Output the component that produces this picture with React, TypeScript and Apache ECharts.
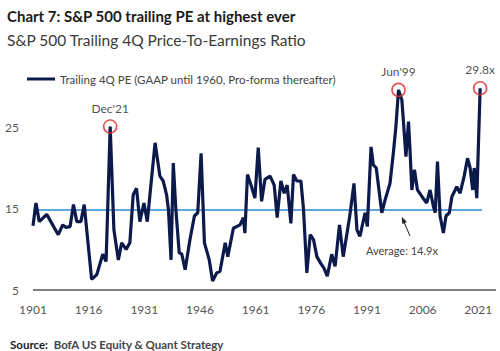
import React, { useEffect, useRef } from 'react';
import * as echarts from 'echarts';

const years = [
  1901.0, 1901.8, 1902.7, 1904.7, 1907.8, 1909.0, 1909.9, 1911.0, 1911.9, 1912.8,
  1913.9, 1914.8, 1916.8, 1918.2, 1919.8, 1920.7, 1921.8, 1922.8, 1924.0, 1924.9,
  1926.1, 1927.1, 1928.0, 1928.9, 1929.8, 1930.9, 1931.8, 1933.9, 1935.2, 1936.1,
  1937.0, 1937.5, 1938.2, 1938.8, 1939.5, 1940.4, 1941.1, 1942.0, 1943.3, 1944.5,
  1945.4, 1946.3, 1947.2, 1948.5, 1949.4, 1950.5, 1951.4, 1952.8, 1953.5, 1955.0,
  1956.8, 1957.7, 1958.1, 1958.8, 1959.9, 1960.8, 1961.7, 1962.6, 1963.5, 1964.9,
  1966.0, 1966.8, 1967.8, 1968.7, 1969.5, 1970.5, 1971.2, 1972.1, 1973.2, 1973.9,
  1974.8, 1975.7, 1976.6, 1977.5, 1978.5, 1979.4, 1980.3, 1981.5, 1982.4, 1983.6,
  1984.6, 1986.3, 1987.5, 1988.3, 1989.1, 1990.5, 1991.1, 1992.1, 1992.7, 1993.5,
  1995.0, 1995.9, 1997.2, 1998.1, 1998.8, 1999.5, 2000.4, 2000.8, 2001.5, 2002.2,
  2002.6, 2003.1, 2003.8, 2004.6, 2005.8, 2007.1, 2008.0, 2008.9, 2009.4, 2010.0,
  2010.7, 2011.6, 2012.3, 2013.2, 2013.9, 2015.2, 2016.1, 2017.2, 2018.1, 2018.8,
  2019.5, 2019.9, 2020.6, 2021.5,
];

const peValues = [
  12.9, 15.7, 13.4, 14.3, 11.8, 13.0, 12.7, 12.8, 15.5, 13.4,
  13.4, 15.5, 6.3, 6.9, 9.4, 8.5, 25.1, 12.4, 8.7, 10.8,
  10.0, 10.8, 16.7, 17.5, 13.4, 15.7, 13.4, 23.1, 19.0, 18.4,
  16.7, 14.9, 8.7, 20.6, 14.9, 9.6, 9.4, 7.5, 11.2, 14.1,
  14.5, 21.8, 10.8, 8.7, 6.1, 7.1, 7.3, 10.8, 9.1, 12.6,
  13.0, 13.9, 12.0, 19.2, 17.7, 16.3, 22.5, 15.9, 18.6, 19.0,
  17.9, 13.9, 18.4, 16.9, 17.9, 13.2, 19.2, 18.4, 18.4, 14.9,
  7.1, 11.8, 11.2, 9.1, 8.3, 7.7, 6.7, 9.4, 7.9, 13.0,
  9.1, 13.9, 18.1, 12.4, 11.6, 14.5, 12.8, 22.6, 20.4, 20.0,
  14.5, 16.1, 18.1, 21.8, 25.1, 29.6, 28.4, 25.9, 21.4, 25.7,
  22.2, 17.3, 19.8, 17.3, 16.5, 15.7, 17.3, 15.3, 14.5, 20.8,
  14.1, 12.0, 14.1, 14.5, 16.5, 17.7, 16.9, 19.0, 21.2, 20.0,
  17.3, 20.0, 16.3, 29.8,
];

const AVERAGE = 14.9;

const highlightYears = [1921.8, 1999.5, 2021.5];
const highlightValues = [25.1, 29.6, 29.8];
const highlightLabels = ["Dec'21", "Jun'99", '29.8x'];

const yTickLabels = ['5', '15', '25'];

const FONT = 'Lato, "Liberation Sans", sans-serif';

export default function App() {
  const ref = useRef<HTMLDivElement>(null);

  useEffect(() => {
    document.body.style.margin = '0';
    if (!ref.current) return;
    const chart = echarts.init(ref.current, undefined, { renderer: 'svg' });
    const lineData = years.map((y, i) => [y, peValues[i]]);
    const hlData = highlightYears.map((y, i) => ({
      value: [y, highlightValues[i]],
      label: { formatter: highlightLabels[i] },
    }));

    chart.setOption({
      animation: false,
      backgroundColor: '#ffffff',
      textStyle: { fontFamily: FONT },
      title: [
        {
          text: 'Chart 7: S&P 500 trailing PE at highest ever',
          left: 2,
          top: 3,
          textStyle: { fontFamily: FONT, fontSize: 15, fontWeight: 'bold', color: '#1a1a1a' },
        },
        {
          text: 'S&P 500 Trailing 4Q Price-To-Earnings Ratio',
          left: 2,
          top: 27,
          textStyle: { fontFamily: FONT, fontSize: 15.5, fontWeight: 'normal', color: '#3a3a3a' },
        },
        {
          text: '{b|Source:}  BofA US Equity & Quant Strategy',
          left: 5,
          top: 333,
          textStyle: {
            fontFamily: FONT,
            fontSize: 11.5,
            color: '#444444',
            rich: {
              b: { fontFamily: FONT, fontSize: 11.5, fontWeight: 'bold', color: '#1a1a1a' },
            },
          },
        },
      ],
      legend: {
        left: 22,
        top: 68,
        itemWidth: 28,
        itemHeight: 3,
        icon: 'rect',
        textStyle: { fontFamily: FONT, fontSize: 11.5, color: '#444444' },
        data: ['Trailing 4Q PE (GAAP until 1960, Pro-forma thereafter)'],
      },
      grid: { left: 33, right: 18, top: 46, bottom: 61 },
      xAxis: {
        type: 'value',
        min: 1901,
        max: 2022,
        interval: 15,
        splitLine: { show: false },
        axisLine: { show: false },
        axisTick: { show: false },
        axisLabel: {
          margin: 13,
          fontSize: 12,
          color: '#555555',
          fontFamily: FONT,
          showMaxLabel: false,
          formatter: (v: number) => (v > 2021 ? '' : String(Math.round(v))),
        },
      },
      yAxis: {
        type: 'value',
        min: 5,
        max: 35,
        interval: 10,
        splitLine: { show: false },
        axisLine: { show: false },
        axisTick: { show: false },
        axisLabel: {
          margin: 14,
          fontSize: 12,
          color: '#555555',
          fontFamily: FONT,
          formatter: (v: number) => (yTickLabels.includes(String(v)) ? String(v) : ''),
        },
      },
      series: [
        {
          name: 'Trailing 4Q PE (GAAP until 1960, Pro-forma thereafter)',
          type: 'line',
          data: lineData,
          symbol: 'none',
          lineStyle: { color: '#0c1a4b', width: 3.2 },
          itemStyle: { color: '#0c1a4b' },
          z: 3,
          markLine: {
            silent: true,
            symbol: ['none', 'none'],
            label: { show: false },
            lineStyle: { color: '#2a8ad4', width: 1.5, type: 'solid' },
            data: [{ yAxis: AVERAGE }],
            z: 2,
          },
        },
        {
          name: 'highlights',
          type: 'scatter',
          data: hlData,
          symbol: 'circle',
          symbolSize: 13,
          itemStyle: { color: 'rgba(0,0,0,0)', borderColor: '#e02828', borderWidth: 1.6 },
          label: {
            show: true,
            position: 'top',
            distance: 5,
            fontSize: 12,
            color: '#222222',
            fontFamily: FONT,
          },
          z: 5,
        },
      ],
      graphic: [
        {
          type: 'line',
          shape: { x1: 33, y1: 290, x2: 496, y2: 290 },
          style: { stroke: '#555555', lineWidth: 1.5 },
        },
        {
          type: 'line',
          shape: { x1: 410, y1: 236, x2: 404, y2: 222 },
          style: { stroke: '#222222', lineWidth: 1 },
        },
        {
          type: 'polygon',
          shape: { points: [[401.7, 216.7], [406.9, 222.1], [402.3, 224.1]] },
          style: { fill: '#222222' },
        },
        {
          type: 'text',
          left: 366,
          top: 245,
          style: { text: 'Average: 14.9x', fontSize: 11, fill: '#444444', fontFamily: FONT },
        },
      ],
    });

    return () => chart.dispose();
  }, []);

  return <div ref={ref} style={{ width: 500, height: 351 }} />;
}
